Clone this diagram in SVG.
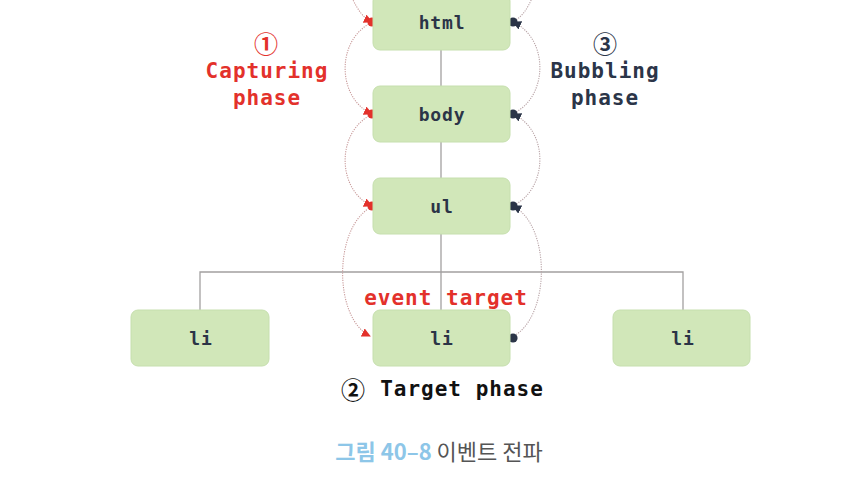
<svg xmlns="http://www.w3.org/2000/svg" width="863" height="488" viewBox="0 0 863 488">
<style>
.box{fill:#d1e7b9;stroke:#c6dfae;stroke-width:1}
.lbl{font-family:"DejaVu Sans Mono","Liberation Mono",monospace;font-weight:bold;font-size:18px;fill:#2b3447;text-anchor:middle;dominant-baseline:central;letter-spacing:0.8px}
.big{font-family:"DejaVu Sans Mono","Liberation Mono",monospace;font-weight:bold;font-size:21px;text-anchor:middle;dominant-baseline:central;letter-spacing:1px}
.num{font-family:"Noto Sans CJK KR","DejaVu Sans",sans-serif;font-weight:bold;font-size:24px;text-anchor:middle;dominant-baseline:central}
.red{fill:#e3312b}
.navy{fill:#2b3548}
.tree{stroke:#a3a0a0;stroke-width:1.3;fill:none}
.cap{stroke:#c89a9a;stroke-width:1.1;fill:none;stroke-dasharray:1.2 1.2}
.bub{stroke:#b8a3a6;stroke-width:1.1;fill:none;stroke-dasharray:1.2 1.2}
</style>
<defs>
<marker id="ar" viewBox="0 0 10 10" refX="9" refY="5" markerWidth="9" markerHeight="9" markerUnits="userSpaceOnUse" orient="auto"><path d="M0,0 L10,5 L0,10 z" fill="#e3312b"/></marker>
<marker id="an" viewBox="0 0 10 10" refX="9" refY="5" markerWidth="9" markerHeight="9" markerUnits="userSpaceOnUse" orient="auto"><path d="M0,0 L10,5 L0,10 z" fill="#2b3548"/></marker>
</defs>
<rect width="863" height="488" fill="#ffffff"/>
<g id="connectors">
<path class="tree" d="M441,50 V86 M441,142 V178 M441,234 V310 M200,310 V272 H683 V310"/>
<path class="cap" d="M352,-2 C358,10 363,18 372,22" marker-end="url(#ar)"/>
<path class="cap" d="M373,22 C336,38 336,98 372,114" marker-end="url(#ar)"/>
<path class="cap" d="M373,114 C336,130 336,190 372,206" marker-end="url(#ar)"/>
<path class="cap" d="M373,206 C333,225 333,318 370,336" marker-end="url(#ar)"/>
<path class="bub" d="M512,337 C551,318 551,225 513,206" marker-end="url(#an)"/>
<path class="bub" d="M512,206 C549,190 549,130 513,114" marker-end="url(#an)"/>
<path class="bub" d="M512,114 C549,98 549,38 513,22" marker-end="url(#an)"/>
<path class="bub" d="M512,22 C521,18 527,10 532,-2"/>
<circle cx="372" cy="22" r="4.6" class="red"/>
<circle cx="372" cy="114" r="4.6" class="red"/>
<circle cx="372" cy="206" r="4.6" class="red"/>
<circle cx="513" cy="22" r="4.6" class="navy"/>
<circle cx="513" cy="114" r="4.6" class="navy"/>
<circle cx="513" cy="206" r="4.6" class="navy"/>
<circle cx="513" cy="338" r="4.6" class="navy"/>
</g>
<g id="node-html"><rect class="box" x="373" y="-6" width="137" height="56" rx="7"/><text class="lbl" x="442" y="22">html</text></g>
<g id="node-body"><rect class="box" x="373" y="86" width="137" height="56" rx="7"/><text class="lbl" x="442" y="114">body</text></g>
<g id="node-ul"><rect class="box" x="373" y="178" width="137" height="56" rx="7"/><text class="lbl" x="442" y="206">ul</text></g>
<g id="node-li-left"><rect class="box" x="131" y="310" width="138" height="56" rx="7"/><text class="lbl" x="201" y="338">li</text></g>
<g id="node-li-target"><rect class="box" x="373" y="310" width="137" height="56" rx="7"/><text class="lbl" x="442" y="338">li</text></g>
<g id="node-li-right"><rect class="box" x="613" y="310" width="137" height="56" rx="7"/><text class="lbl" x="683" y="338">li</text></g>
<g id="labels">
<text class="num red" x="266" y="42">①</text>
<text class="big red" x="267" y="71">Capturing</text>
<text class="big red" x="267" y="98">phase</text>
<text class="num navy" x="605" y="42">③</text>
<text class="big navy" x="605" y="71">Bubbling</text>
<text class="big navy" x="605" y="98">phase</text>
<text class="big red" x="446" y="298">event target</text>
<text class="big" x="462" y="389" fill="#111111">Target phase</text>
<text class="num" x="353" y="388" fill="#111111">②</text>
<text x="439" y="450" text-anchor="middle" dominant-baseline="central" font-family="'Noto Sans CJK KR','Noto Sans',sans-serif" font-size="22px"><tspan fill="#8dc6e8" font-weight="bold">그림 40–8</tspan><tspan fill="#555555"> 이벤트 전파</tspan></text>
</g>
</svg>
